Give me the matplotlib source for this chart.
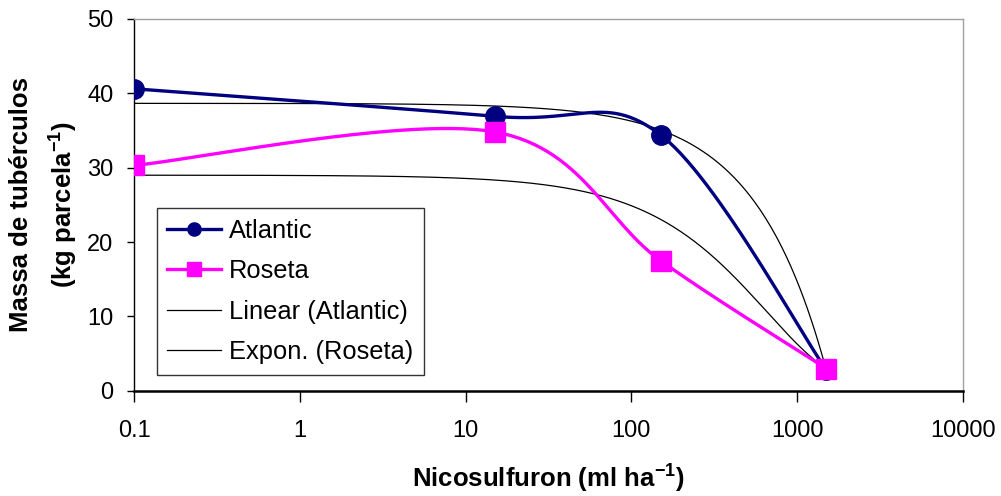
import numpy as np
import matplotlib.pyplot as plt
from matplotlib.lines import Line2D

plt.rcParams['font.family'] = ['Liberation Sans', 'DejaVu Sans']
plt.rcParams['mathtext.fontset'] = 'custom'
plt.rcParams['mathtext.rm'] = 'Liberation Sans'
plt.rcParams['mathtext.bf'] = 'Liberation Sans:bold'

# data
dose = np.array([0.1, 15, 150, 1500])          # Nicosulfuron (ml/ha)
atlantic = np.array([40.6, 36.9, 34.4, 2.8])
roseta = np.array([30.3, 34.8, 17.5, 3.0])
xticks = [0.1, 1, 10, 100, 1000, 10000]
xticklabels = ['0.1', '1', '10', '100', '1000', '10000']
yticks = [0, 10, 20, 30, 40, 50]

navy = '#000080'
magenta = '#FF00FF'

fig = plt.figure(figsize=(10.01, 4.96), dpi=100)
ax = fig.add_axes([0.134, 0.212, 0.828, 0.750])

# aspect of the plot area: y units -> decades, so smoothing happens in screen space
k = (372 / 50) / (829 / 5)


def smooth(x, y, n=60):
    # Excel-like smoothed line: bezier segments, catmull-rom style control points
    P = np.column_stack([np.log10(x), y * k])
    out = []
    t = np.linspace(0, 1, n)[:, None]
    for i in range(len(P) - 1):
        p0, p3 = P[i], P[i + 1]
        prev = P[i - 1] if i > 0 else P[i]
        nxt = P[i + 2] if i + 2 < len(P) else P[i + 1]
        c1 = p0 + (p3 - prev) / 6
        c2 = p3 - (nxt - p0) / 6
        out.append((1 - t)**3 * p0 + 3 * (1 - t)**2 * t * c1
                   + 3 * (1 - t) * t**2 * c2 + t**3 * p3)
    b = np.vstack(out)
    return 10**b[:, 0], b[:, 1] / k


# trendlines fitted from the data
xs = np.logspace(np.log10(dose[0]), np.log10(dose[-1]), 400)
lin = np.polyfit(dose, atlantic, 1)
ax.plot(xs, np.polyval(lin, xs), color='black', lw=0.9, zorder=2)
ex = np.polyfit(dose, np.log(roseta), 1)
ax.plot(xs, np.exp(np.polyval(ex, xs)), color='black', lw=0.9, zorder=2)

sx, sy = smooth(dose, atlantic)
ax.plot(sx, sy, color=navy, lw=2.4, zorder=3)
ax.plot(dose, atlantic, 'o', color=navy, ms=14, zorder=4)
sx, sy = smooth(dose, roseta)
ax.plot(sx, sy, color=magenta, lw=2.4, zorder=3)
ax.plot(dose, roseta, 's', color=magenta, ms=14, zorder=4)

ax.set_xscale('log')
ax.set_xlim(0.1, 10000)
ax.set_ylim(0, 50)
ax.set_xticks(xticks)
ax.set_xticklabels(xticklabels, fontsize=17)
ax.minorticks_off()
ax.set_yticks(yticks)
ax.tick_params(axis='y', direction='out', length=5, labelsize=17, pad=10, width=1)
ax.tick_params(axis='x', direction='out', length=8, pad=13, width=1)

for s in ['top', 'right']:
    ax.spines[s].set_color('#a0a0a0')
    ax.spines[s].set_linewidth(1)
ax.spines['left'].set_linewidth(1)
ax.spines['bottom'].set_linewidth(1.8)

ax.set_xlabel(r'Nicosulfuron (ml ha$^{\mathbf{-1}}$)', fontsize=18.5, fontweight='bold', labelpad=14)
ax.set_ylabel('Massa de tubérculos\n' + r'(kg parcela$^{\mathbf{-1}}$)', fontsize=18.5,
              fontweight='bold', labelpad=6, linespacing=1.5)

handles = [
    Line2D([], [], color=navy, lw=2.4, marker='o', ms=9.5),
    Line2D([], [], color=magenta, lw=2.4, marker='s', ms=9.5),
    Line2D([], [], color='black', lw=0.9),
    Line2D([], [], color='black', lw=0.9),
]
labels = ['Atlantic', 'Roseta', 'Linear (Atlantic)', 'Expon. (Roseta)']
leg = ax.legend(handles, labels, loc='lower left', bbox_to_anchor=(0.027, 0.043),
                borderaxespad=0, fontsize=18.4, frameon=True, fancybox=False,
                edgecolor='black', handlelength=2.1, handletextpad=0.3,
                labelspacing=0.64, borderpad=0.42)
leg.get_frame().set_linewidth(1)

fig.savefig('out.png', dpi=100)
